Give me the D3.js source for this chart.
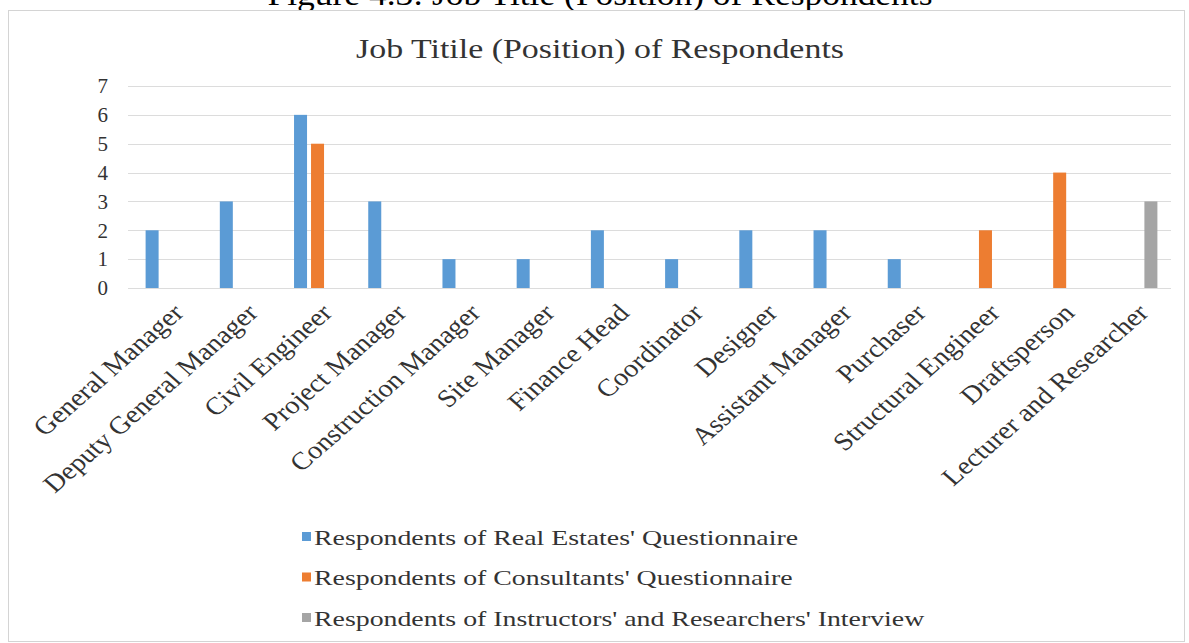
<!DOCTYPE html>
<html>
<head>
<meta charset="utf-8">
<script src="https://cdn.jsdelivr.net/npm/d3@7"></script>
<style>
  body { margin: 0; background: #fff; }
  svg { display: block; }
</style>
</head>
<body>
<svg></svg>
<script>
// Taille de la page
const width = 1189;
const height = 643;

// Données
const categories = [
    "General Manager", "Deputy General Manager", "Civil Engineer", "Project Manager",
    "Construction Manager", "Site Manager", "Finance Head", "Coordinator", "Designer",
    "Assistant Manager", "Purchaser", "Structural Engineer", "Draftsperson",
    "Lecturer and Researcher"
];
const seriesNames = [
    "Respondents of Real Estates' Questionnaire",
    "Respondents of Consultants' Questionnaire",
    "Respondents of Instructors' and Researchers' Interview"
];
const realEstates  = [2, 3, 6, 3, 1, 1, 2, 1, 2, 2, 1, 0, 0, 0];
const consultants  = [0, 0, 5, 0, 0, 0, 0, 0, 0, 0, 0, 2, 4, 0];
const instructors  = [0, 0, 0, 0, 0, 0, 0, 0, 0, 0, 0, 0, 0, 3];
const yTicks = [0, 1, 2, 3, 4, 5, 6, 7];
const colors = ["#5b9bd5", "#ed7d31", "#a5a5a5"];

const seriesValues = [realEstates, consultants, instructors];

const serif = "'Liberation Serif', 'DejaVu Serif', serif";

const svg = d3.select("svg")
    .attr("width", width)
    .attr("height", height);

// Légende de la figure, coupée en haut (comme sur l'image)
svg.append("text")
    .attr("x", 600)
    .attr("y", 5)
    .attr("text-anchor", "middle")
    .attr("font-family", serif)
    .attr("font-size", 32)
    .attr("fill", "#000")
    .attr("textLength", 665)
    .attr("lengthAdjust", "spacingAndGlyphs")
    .text("Figure 4.3: Job Title (Position) of Respondents");

// Cadre du graphique
svg.append("rect")
    .attr("x", 8.5)
    .attr("y", 10.5)
    .attr("width", 1176)
    .attr("height", 631)
    .attr("fill", "#fff")
    .attr("stroke", "#d4d4d4");

// Titre
svg.append("text")
    .attr("x", 600)
    .attr("y", 58)
    .attr("text-anchor", "middle")
    .attr("font-family", serif)
    .attr("font-size", 28)
    .attr("fill", "#333")
    .attr("textLength", 488)
    .attr("lengthAdjust", "spacingAndGlyphs")
    .text("Job Titile (Position) of Respondents");

// Échelles
const x0 = d3.scaleBand()
    .domain(categories)
    .range([132, 1171]);

const x1 = d3.scaleBand()
    .domain(d3.range(seriesNames.length))
    .range([-25.5, 25.5])
    .paddingInner(0.235)
    .paddingOuter(0.1175);

const y = d3.scaleLinear()
    .domain([0, 7])
    .range([288, 86]);

// Grille horizontale
svg.append("g")
    .selectAll("line")
    .data(yTicks)
    .join("line")
    .attr("x1", 128)
    .attr("x2", 1171)
    .attr("y1", d => Math.round(y(d)) + 0.5)
    .attr("y2", d => Math.round(y(d)) + 0.5)
    .attr("stroke", "#dcdcdc")
    .attr("stroke-width", 1);

// Étiquettes de l'axe Y
svg.append("g")
    .selectAll("text")
    .data(yTicks)
    .join("text")
    .attr("x", 108)
    .attr("y", d => y(d))
    .attr("dy", "0.35em")
    .attr("text-anchor", "end")
    .attr("font-family", serif)
    .attr("font-size", 21)
    .attr("fill", "#333")
    .text(d => d);

// Barres
const bars = [];
seriesValues.forEach((vals, s) => {
    vals.forEach((v, i) => {
        if (v > 0) bars.push({ cat: categories[i], s, v });
    });
});

svg.append("g")
    .selectAll("rect")
    .data(bars)
    .join("rect")
    .attr("x", d => x0(d.cat) + x0.bandwidth() / 2 + x1(d.s))
    .attr("y", d => y(d.v))
    .attr("width", x1.bandwidth())
    .attr("height", d => y(0) - y(d.v))
    .attr("fill", d => colors[d.s]);

// Étiquettes de l'axe X (inclinées)
svg.append("g")
    .selectAll("text")
    .data(categories)
    .join("text")
    .attr("transform", d => `translate(${x0(d) + x0.bandwidth() / 2 + 2},${302}) scale(1.14,1) rotate(-45)`)
    .attr("text-anchor", "end")
    .attr("dy", "0.7em")
    .attr("font-family", serif)
    .attr("font-size", 25)
    .attr("fill", "#333")
    .text(d => d);

// Légende
const legend = svg.append("g")
    .selectAll("g")
    .data(seriesNames)
    .join("g")
    .attr("transform", (d, i) => `translate(302,${537 + i * 40.5})`);

legend.append("rect")
    .attr("x", 0)
    .attr("y", -5)
    .attr("width", 9)
    .attr("height", 9)
    .attr("fill", (d, i) => colors[i]);

const legendText = legend.append("text")
    .attr("x", 12)
    .attr("y", 0)
    .attr("dy", "0.35em")
    .attr("font-family", serif)
    .attr("font-size", 22)
    .attr("fill", "#333")
    .text(d => d);

// Étirement horizontal comme sur l'image d'origine
const w0 = legendText.node().getComputedTextLength();
const stretch = 484 / w0;
legendText.each(function () {
    const w = this.getComputedTextLength();
    d3.select(this)
        .attr("textLength", w * stretch)
        .attr("lengthAdjust", "spacingAndGlyphs");
});
</script>
</body>
</html>
